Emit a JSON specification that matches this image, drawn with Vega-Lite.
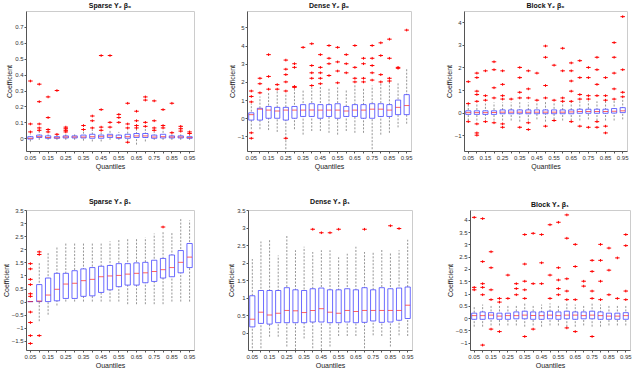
{
"$schema":"https://vega.github.io/schema/vega-lite/v6.json",
"padding":{"left":1,"top":1,"right":0,"bottom":0},
"datasets":{
"boxes":[
{"p":1,"q":"0.05","lo":-0.02,"q1":-0.005,"m":0.0,"q3":0.01,"hi":0.03},
{"p":1,"q":"0.10","lo":-0.01,"q1":0.005,"m":0.01,"q3":0.02,"hi":0.045},
{"p":1,"q":"0.15","lo":-0.01,"q1":0.0,"m":0.005,"q3":0.015,"hi":0.035},
{"p":1,"q":"0.20","lo":-0.01,"q1":0.0,"m":0.003,"q3":0.01,"hi":0.02},
{"p":1,"q":"0.25","lo":-0.01,"q1":0.002,"m":0.008,"q3":0.015,"hi":0.035},
{"p":1,"q":"0.30","lo":-0.01,"q1":0.002,"m":0.008,"q3":0.015,"hi":0.03},
{"p":1,"q":"0.35","lo":-0.015,"q1":0.002,"m":0.008,"q3":0.02,"hi":0.045},
{"p":1,"q":"0.40","lo":-0.02,"q1":0.0,"m":0.01,"q3":0.025,"hi":0.055},
{"p":1,"q":"0.45","lo":-0.02,"q1":0.0,"m":0.01,"q3":0.02,"hi":0.045},
{"p":1,"q":"0.50","lo":-0.01,"q1":0.005,"m":0.015,"q3":0.025,"hi":0.05},
{"p":1,"q":"0.55","lo":-0.01,"q1":0.0,"m":0.005,"q3":0.02,"hi":0.04},
{"p":1,"q":"0.60","lo":-0.015,"q1":0.0,"m":0.01,"q3":0.025,"hi":0.055},
{"p":1,"q":"0.65","lo":-0.04,"q1":0.005,"m":0.015,"q3":0.03,"hi":0.06},
{"p":1,"q":"0.70","lo":-0.02,"q1":0.005,"m":0.015,"q3":0.03,"hi":0.06},
{"p":1,"q":"0.75","lo":-0.01,"q1":0.0,"m":0.008,"q3":0.02,"hi":0.04},
{"p":1,"q":"0.80","lo":-0.01,"q1":0.002,"m":0.01,"q3":0.025,"hi":0.05},
{"p":1,"q":"0.85","lo":-0.01,"q1":0.002,"m":0.008,"q3":0.015,"hi":0.03},
{"p":1,"q":"0.90","lo":-0.01,"q1":0.002,"m":0.008,"q3":0.015,"hi":0.035},
{"p":1,"q":"0.95","lo":-0.01,"q1":0.0,"m":0.004,"q3":0.01,"hi":0.02},
{"p":2,"q":"0.05","lo":-0.6,"q1":-0.1,"m":0.2,"q3":0.3,"hi":0.8},
{"p":2,"q":"0.10","lo":-0.6,"q1":-0.1,"m":0.5,"q3":0.55,"hi":1.2},
{"p":2,"q":"0.15","lo":-0.65,"q1":0.0,"m":0.45,"q3":0.65,"hi":1.4},
{"p":2,"q":"0.20","lo":-0.75,"q1":0.0,"m":0.4,"q3":0.6,"hi":1.5},
{"p":2,"q":"0.25","lo":-1.7,"q1":-0.1,"m":0.45,"q3":0.6,"hi":1.4},
{"p":2,"q":"0.30","lo":-0.6,"q1":0.0,"m":0.45,"q3":0.65,"hi":1.6},
{"p":2,"q":"0.35","lo":-0.9,"q1":0.1,"m":0.45,"q3":0.75,"hi":1.6},
{"p":2,"q":"0.40","lo":-0.7,"q1":0.1,"m":0.45,"q3":0.8,"hi":1.7},
{"p":2,"q":"0.45","lo":-0.7,"q1":0.0,"m":0.45,"q3":0.75,"hi":1.75},
{"p":2,"q":"0.50","lo":-0.8,"q1":0.1,"m":0.45,"q3":0.75,"hi":1.7},
{"p":2,"q":"0.55","lo":-0.9,"q1":0.0,"m":0.45,"q3":0.8,"hi":1.7},
{"p":2,"q":"0.60","lo":-0.7,"q1":0.1,"m":0.4,"q3":0.65,"hi":1.6},
{"p":2,"q":"0.65","lo":-0.8,"q1":0.1,"m":0.45,"q3":0.75,"hi":1.9},
{"p":2,"q":"0.70","lo":-0.8,"q1":0.0,"m":0.45,"q3":0.75,"hi":1.7},
{"p":2,"q":"0.75","lo":-1.7,"q1":0.0,"m":0.5,"q3":0.8,"hi":1.8},
{"p":2,"q":"0.80","lo":-0.9,"q1":0.1,"m":0.5,"q3":0.8,"hi":1.9},
{"p":2,"q":"0.85","lo":-0.8,"q1":0.1,"m":0.45,"q3":0.75,"hi":2.0},
{"p":2,"q":"0.90","lo":-0.5,"q1":0.2,"m":0.6,"q3":1.0,"hi":2.0},
{"p":2,"q":"0.95","lo":-0.3,"q1":0.2,"m":0.7,"q3":1.3,"hi":2.7},
{"p":3,"q":"0.05","lo":-0.35,"q1":-0.08,"m":0.0,"q3":0.08,"hi":0.35},
{"p":3,"q":"0.10","lo":-0.35,"q1":-0.08,"m":0.0,"q3":0.08,"hi":0.4},
{"p":3,"q":"0.15","lo":-0.3,"q1":-0.08,"m":0.0,"q3":0.08,"hi":0.4},
{"p":3,"q":"0.20","lo":-0.35,"q1":-0.08,"m":0.0,"q3":0.08,"hi":0.45},
{"p":3,"q":"0.25","lo":-0.35,"q1":-0.05,"m":0.02,"q3":0.12,"hi":0.45},
{"p":3,"q":"0.30","lo":-0.35,"q1":-0.05,"m":0.02,"q3":0.12,"hi":0.45},
{"p":3,"q":"0.35","lo":-0.4,"q1":-0.05,"m":0.02,"q3":0.12,"hi":0.5},
{"p":3,"q":"0.40","lo":-0.35,"q1":-0.05,"m":0.02,"q3":0.12,"hi":0.45},
{"p":3,"q":"0.45","lo":-0.3,"q1":-0.05,"m":0.02,"q3":0.12,"hi":0.45},
{"p":3,"q":"0.50","lo":-0.4,"q1":-0.05,"m":0.02,"q3":0.12,"hi":0.5},
{"p":3,"q":"0.55","lo":-0.3,"q1":-0.05,"m":0.02,"q3":0.12,"hi":0.45},
{"p":3,"q":"0.60","lo":-0.35,"q1":-0.05,"m":0.02,"q3":0.12,"hi":0.45},
{"p":3,"q":"0.65","lo":-0.35,"q1":-0.05,"m":0.03,"q3":0.12,"hi":0.45},
{"p":3,"q":"0.70","lo":-0.35,"q1":-0.03,"m":0.05,"q3":0.15,"hi":0.5},
{"p":3,"q":"0.75","lo":-0.3,"q1":-0.03,"m":0.05,"q3":0.15,"hi":0.5},
{"p":3,"q":"0.80","lo":-0.35,"q1":-0.03,"m":0.05,"q3":0.15,"hi":0.5},
{"p":3,"q":"0.85","lo":-0.35,"q1":-0.03,"m":0.05,"q3":0.15,"hi":0.5},
{"p":3,"q":"0.90","lo":-0.35,"q1":-0.02,"m":0.06,"q3":0.18,"hi":0.55},
{"p":3,"q":"0.95","lo":-0.3,"q1":0.0,"m":0.08,"q3":0.22,"hi":0.6},
{"p":4,"q":"0.05","lo":0.0,"q1":0.0,"m":0.0,"q3":0.0,"hi":0.0},
{"p":4,"q":"0.10","lo":-0.75,"q1":0.0,"m":0.02,"q3":0.65,"hi":1.5},
{"p":4,"q":"0.15","lo":-0.5,"q1":0.0,"m":0.25,"q3":0.9,"hi":1.9},
{"p":4,"q":"0.20","lo":-0.15,"q1":0.03,"m":0.47,"q3":1.08,"hi":2.1},
{"p":4,"q":"0.25","lo":0.0,"q1":0.12,"m":0.67,"q3":1.08,"hi":2.25},
{"p":4,"q":"0.30","lo":0.0,"q1":0.12,"m":0.7,"q3":1.18,"hi":2.25},
{"p":4,"q":"0.35","lo":0.0,"q1":0.2,"m":0.8,"q3":1.25,"hi":2.25},
{"p":4,"q":"0.40","lo":0.0,"q1":0.22,"m":0.85,"q3":1.3,"hi":2.25},
{"p":4,"q":"0.45","lo":0.0,"q1":0.35,"m":0.95,"q3":1.35,"hi":2.25},
{"p":4,"q":"0.50","lo":0.0,"q1":0.45,"m":0.98,"q3":1.38,"hi":2.3},
{"p":4,"q":"0.55","lo":0.0,"q1":0.57,"m":1.0,"q3":1.45,"hi":2.35},
{"p":4,"q":"0.60","lo":-0.1,"q1":0.63,"m":1.05,"q3":1.45,"hi":2.4},
{"p":4,"q":"0.65","lo":-0.1,"q1":0.63,"m":1.08,"q3":1.48,"hi":2.4},
{"p":4,"q":"0.70","lo":-0.1,"q1":0.72,"m":1.1,"q3":1.5,"hi":2.45},
{"p":4,"q":"0.75","lo":-0.1,"q1":0.77,"m":1.15,"q3":1.58,"hi":2.6},
{"p":4,"q":"0.80","lo":-0.1,"q1":0.9,"m":1.22,"q3":1.65,"hi":2.7},
{"p":4,"q":"0.85","lo":0.0,"q1":0.95,"m":1.3,"q3":1.78,"hi":2.65},
{"p":4,"q":"0.90","lo":0.0,"q1":1.1,"m":1.5,"q3":1.95,"hi":3.2},
{"p":4,"q":"0.95","lo":0.0,"q1":1.3,"m":1.7,"q3":2.22,"hi":3.1},
{"p":5,"q":"0.05","lo":-0.45,"q1":0.16,"m":0.38,"q3":1.05,"hi":2.1},
{"p":5,"q":"0.10","lo":-0.45,"q1":0.26,"m":0.58,"q3":1.2,"hi":2.6},
{"p":5,"q":"0.15","lo":-0.12,"q1":0.24,"m":0.5,"q3":1.2,"hi":2.65},
{"p":5,"q":"0.20","lo":-0.12,"q1":0.28,"m":0.55,"q3":1.2,"hi":2.2},
{"p":5,"q":"0.25","lo":-0.4,"q1":0.28,"m":0.63,"q3":1.28,"hi":2.78},
{"p":5,"q":"0.30","lo":-0.5,"q1":0.28,"m":0.62,"q3":1.22,"hi":2.35},
{"p":5,"q":"0.35","lo":-0.17,"q1":0.28,"m":0.57,"q3":1.2,"hi":2.45},
{"p":5,"q":"0.40","lo":-0.45,"q1":0.3,"m":0.63,"q3":1.25,"hi":2.3},
{"p":5,"q":"0.45","lo":-0.5,"q1":0.3,"m":0.68,"q3":1.27,"hi":2.35},
{"p":5,"q":"0.50","lo":-0.4,"q1":0.28,"m":0.58,"q3":1.22,"hi":2.35},
{"p":5,"q":"0.55","lo":-0.1,"q1":0.28,"m":0.55,"q3":1.22,"hi":2.15},
{"p":5,"q":"0.60","lo":-0.1,"q1":0.3,"m":0.63,"q3":1.25,"hi":2.25},
{"p":5,"q":"0.65","lo":-0.1,"q1":0.28,"m":0.6,"q3":1.22,"hi":2.45},
{"p":5,"q":"0.70","lo":-0.45,"q1":0.29,"m":0.63,"q3":1.28,"hi":2.3},
{"p":5,"q":"0.75","lo":-0.08,"q1":0.33,"m":0.63,"q3":1.22,"hi":2.3},
{"p":5,"q":"0.80","lo":-0.1,"q1":0.29,"m":0.63,"q3":1.28,"hi":2.4},
{"p":5,"q":"0.85","lo":-0.4,"q1":0.3,"m":0.63,"q3":1.25,"hi":2.3},
{"p":5,"q":"0.90","lo":-0.08,"q1":0.35,"m":0.63,"q3":1.27,"hi":2.35},
{"p":5,"q":"0.95","lo":-0.1,"q1":0.4,"m":0.78,"q3":1.3,"hi":2.65},
{"p":6,"q":"0.05","lo":-0.35,"q1":-0.05,"m":0.1,"q3":0.2,"hi":0.5},
{"p":6,"q":"0.10","lo":-0.35,"q1":-0.05,"m":0.1,"q3":0.25,"hi":0.55},
{"p":6,"q":"0.15","lo":-0.3,"q1":-0.03,"m":0.12,"q3":0.22,"hi":0.5},
{"p":6,"q":"0.20","lo":-0.3,"q1":-0.05,"m":0.08,"q3":0.2,"hi":0.5},
{"p":6,"q":"0.25","lo":-0.3,"q1":-0.05,"m":0.1,"q3":0.2,"hi":0.5},
{"p":6,"q":"0.30","lo":-0.3,"q1":-0.03,"m":0.1,"q3":0.25,"hi":0.55},
{"p":6,"q":"0.35","lo":-0.35,"q1":-0.03,"m":0.12,"q3":0.28,"hi":0.6},
{"p":6,"q":"0.40","lo":-0.3,"q1":-0.05,"m":0.1,"q3":0.25,"hi":0.55},
{"p":6,"q":"0.45","lo":-0.35,"q1":-0.05,"m":0.1,"q3":0.25,"hi":0.55},
{"p":6,"q":"0.50","lo":-0.3,"q1":-0.03,"m":0.12,"q3":0.28,"hi":0.6},
{"p":6,"q":"0.55","lo":-0.3,"q1":-0.05,"m":0.1,"q3":0.25,"hi":0.55},
{"p":6,"q":"0.60","lo":-0.35,"q1":-0.03,"m":0.12,"q3":0.28,"hi":0.6},
{"p":6,"q":"0.65","lo":-0.35,"q1":-0.05,"m":0.12,"q3":0.25,"hi":0.55},
{"p":6,"q":"0.70","lo":-0.3,"q1":-0.03,"m":0.1,"q3":0.25,"hi":0.55},
{"p":6,"q":"0.75","lo":-0.35,"q1":-0.03,"m":0.12,"q3":0.28,"hi":0.6},
{"p":6,"q":"0.80","lo":-0.35,"q1":-0.05,"m":0.1,"q3":0.25,"hi":0.55},
{"p":6,"q":"0.85","lo":-0.3,"q1":-0.05,"m":0.08,"q3":0.2,"hi":0.5},
{"p":6,"q":"0.90","lo":-0.3,"q1":-0.05,"m":0.08,"q3":0.2,"hi":0.5},
{"p":6,"q":"0.95","lo":-0.3,"q1":-0.05,"m":0.1,"q3":0.22,"hi":0.55}
],
"out":[
{"p":1,"q":"0.05","v":0.36},{"p":1,"q":"0.05","v":0.09},{"p":1,"q":"0.05","v":0.04},
{"p":1,"q":"0.10","v":0.34},{"p":1,"q":"0.10","v":0.23},{"p":1,"q":"0.10","v":0.09},{"p":1,"q":"0.10","v":0.065},{"p":1,"q":"0.10","v":0.05},
{"p":1,"q":"0.15","v":0.26},{"p":1,"q":"0.15","v":0.13},{"p":1,"q":"0.15","v":0.055},{"p":1,"q":"0.15","v":0.04},
{"p":1,"q":"0.20","v":0.30},{"p":1,"q":"0.20","v":0.025},
{"p":1,"q":"0.25","v":0.07},{"p":1,"q":"0.25","v":0.06},{"p":1,"q":"0.25","v":0.05},{"p":1,"q":"0.25","v":0.04},
{"p":1,"q":"0.35","v":0.08},{"p":1,"q":"0.35","v":0.055},
{"p":1,"q":"0.40","v":0.14},{"p":1,"q":"0.40","v":0.11},{"p":1,"q":"0.40","v":0.065},
{"p":1,"q":"0.45","v":0.52},{"p":1,"q":"0.45","v":0.18},{"p":1,"q":"0.45","v":0.07},{"p":1,"q":"0.45","v":0.05},
{"p":1,"q":"0.50","v":0.52},{"p":1,"q":"0.50","v":0.10},{"p":1,"q":"0.50","v":0.07},
{"p":1,"q":"0.55","v":0.15},{"p":1,"q":"0.55","v":0.13},{"p":1,"q":"0.55","v":0.10},
{"p":1,"q":"0.60","v":0.22},{"p":1,"q":"0.60","v":0.09},{"p":1,"q":"0.60","v":0.065},{"p":1,"q":"0.60","v":-0.025},
{"p":1,"q":"0.65","v":0.17},{"p":1,"q":"0.65","v":0.11},{"p":1,"q":"0.65","v":0.08},{"p":1,"q":"0.65","v":0.065},
{"p":1,"q":"0.70","v":0.26},{"p":1,"q":"0.70","v":0.24},{"p":1,"q":"0.70","v":0.10},{"p":1,"q":"0.70","v":0.075},
{"p":1,"q":"0.75","v":0.235},{"p":1,"q":"0.75","v":0.11},{"p":1,"q":"0.75","v":0.065},{"p":1,"q":"0.75","v":0.05},
{"p":1,"q":"0.80","v":0.18},{"p":1,"q":"0.80","v":0.08},{"p":1,"q":"0.80","v":0.065},
{"p":1,"q":"0.85","v":0.22},{"p":1,"q":"0.85","v":0.035},
{"p":1,"q":"0.90","v":0.075},{"p":1,"q":"0.90","v":0.06},{"p":1,"q":"0.90","v":0.045},
{"p":1,"q":"0.95","v":0.04},{"p":1,"q":"0.95","v":0.03},
{"p":2,"q":"0.05","v":1.5},{"p":2,"q":"0.05","v":1.2},{"p":2,"q":"0.05","v":0.9},{"p":2,"q":"0.05","v":-0.8},{"p":2,"q":"0.05","v":-1.1},
{"p":2,"q":"0.10","v":2.2},{"p":2,"q":"0.10","v":1.9},{"p":2,"q":"0.10","v":1.4},
{"p":2,"q":"0.15","v":3.5},{"p":2,"q":"0.15","v":2.3},{"p":2,"q":"0.15","v":1.6},
{"p":2,"q":"0.20","v":1.85},{"p":2,"q":"0.20","v":1.6},
{"p":2,"q":"0.25","v":3.2},{"p":2,"q":"0.25","v":2.7},{"p":2,"q":"0.25","v":2.4},{"p":2,"q":"0.25","v":2.0},{"p":2,"q":"0.25","v":1.5},{"p":2,"q":"0.25","v":-1.1},
{"p":2,"q":"0.30","v":3.0},{"p":2,"q":"0.30","v":2.8},{"p":2,"q":"0.30","v":1.75},{"p":2,"q":"0.30","v":1.7},
{"p":2,"q":"0.35","v":3.9},
{"p":2,"q":"0.40","v":4.1},{"p":2,"q":"0.40","v":2.9},{"p":2,"q":"0.40","v":2.5},{"p":2,"q":"0.40","v":2.2},{"p":2,"q":"0.40","v":1.8},
{"p":2,"q":"0.45","v":3.5},{"p":2,"q":"0.45","v":2.8},{"p":2,"q":"0.45","v":2.5},{"p":2,"q":"0.45","v":2.2},{"p":2,"q":"0.45","v":1.9},
{"p":2,"q":"0.50","v":4.0},{"p":2,"q":"0.50","v":3.3},{"p":2,"q":"0.50","v":3.0},{"p":2,"q":"0.50","v":2.35},
{"p":2,"q":"0.55","v":3.9},{"p":2,"q":"0.55","v":3.1},{"p":2,"q":"0.55","v":2.6},{"p":2,"q":"0.55","v":1.95},
{"p":2,"q":"0.60","v":3.5},{"p":2,"q":"0.60","v":3.0},{"p":2,"q":"0.60","v":2.5},
{"p":2,"q":"0.65","v":4.0},{"p":2,"q":"0.65","v":2.8},{"p":2,"q":"0.65","v":2.2},{"p":2,"q":"0.65","v":2.0},
{"p":2,"q":"0.70","v":3.3},{"p":2,"q":"0.70","v":3.0},{"p":2,"q":"0.70","v":2.2},{"p":2,"q":"0.70","v":2.0},
{"p":2,"q":"0.75","v":4.0},{"p":2,"q":"0.75","v":3.3},{"p":2,"q":"0.75","v":2.9},{"p":2,"q":"0.75","v":2.5},{"p":2,"q":"0.75","v":2.1},
{"p":2,"q":"0.80","v":4.15},{"p":2,"q":"0.80","v":3.45},{"p":2,"q":"0.80","v":2.4},{"p":2,"q":"0.80","v":2.0},
{"p":2,"q":"0.85","v":4.35},{"p":2,"q":"0.85","v":3.3},{"p":2,"q":"0.85","v":2.2},{"p":2,"q":"0.85","v":2.05},
{"p":2,"q":"0.90","v":2.8},{"p":2,"q":"0.90","v":2.75},
{"p":2,"q":"0.95","v":4.85},
{"p":3,"q":"0.05","v":1.37},{"p":3,"q":"0.05","v":0.4},{"p":3,"q":"0.05","v":-0.4},
{"p":3,"q":"0.10","v":1.75},{"p":3,"q":"0.10","v":1.55},{"p":3,"q":"0.10","v":0.95},{"p":3,"q":"0.10","v":0.8},{"p":3,"q":"0.10","v":0.5},{"p":3,"q":"0.10","v":-0.5},{"p":3,"q":"0.10","v":-0.9},{"p":3,"q":"0.10","v":-1.0},
{"p":3,"q":"0.15","v":1.85},{"p":3,"q":"0.15","v":0.75},{"p":3,"q":"0.15","v":0.55},{"p":3,"q":"0.15","v":-0.4},
{"p":3,"q":"0.20","v":2.25},{"p":3,"q":"0.20","v":1.9},{"p":3,"q":"0.20","v":1.1},{"p":3,"q":"0.20","v":0.65},{"p":3,"q":"0.20","v":-0.45},
{"p":3,"q":"0.25","v":1.85},{"p":3,"q":"0.25","v":1.25},{"p":3,"q":"0.25","v":0.75},{"p":3,"q":"0.25","v":0.6},{"p":3,"q":"0.25","v":-0.5},{"p":3,"q":"0.25","v":-0.65},
{"p":3,"q":"0.30","v":0.6},
{"p":3,"q":"0.35","v":2.0},{"p":3,"q":"0.35","v":1.55},{"p":3,"q":"0.35","v":0.9},{"p":3,"q":"0.35","v":0.65},{"p":3,"q":"0.35","v":-0.65},
{"p":3,"q":"0.40","v":1.85},{"p":3,"q":"0.40","v":1.05},{"p":3,"q":"0.40","v":0.65},{"p":3,"q":"0.40","v":-0.45},{"p":3,"q":"0.40","v":-0.75},
{"p":3,"q":"0.45","v":1.75},{"p":3,"q":"0.45","v":0.55},
{"p":3,"q":"0.50","v":2.95},{"p":3,"q":"0.50","v":2.45},{"p":3,"q":"0.50","v":1.2},{"p":3,"q":"0.50","v":0.65},{"p":3,"q":"0.50","v":-0.6},
{"p":3,"q":"0.55","v":2.1},{"p":3,"q":"0.55","v":0.55},{"p":3,"q":"0.55","v":-0.35},
{"p":3,"q":"0.60","v":2.85},{"p":3,"q":"0.60","v":1.85},{"p":3,"q":"0.60","v":0.65},{"p":3,"q":"0.60","v":0.5},
{"p":3,"q":"0.65","v":2.2},{"p":3,"q":"0.65","v":1.85},{"p":3,"q":"0.65","v":1.4},{"p":3,"q":"0.65","v":0.95},{"p":3,"q":"0.65","v":0.5},{"p":3,"q":"0.65","v":-0.4},
{"p":3,"q":"0.70","v":2.3},{"p":3,"q":"0.70","v":1.55},{"p":3,"q":"0.70","v":0.8},{"p":3,"q":"0.70","v":0.6},{"p":3,"q":"0.70","v":-0.6},
{"p":3,"q":"0.75","v":2.0},{"p":3,"q":"0.75","v":1.55},{"p":3,"q":"0.75","v":0.75},{"p":3,"q":"0.75","v":0.6},{"p":3,"q":"0.75","v":-0.65},
{"p":3,"q":"0.80","v":2.45},{"p":3,"q":"0.80","v":1.9},{"p":3,"q":"0.80","v":1.25},{"p":3,"q":"0.80","v":0.75},{"p":3,"q":"0.80","v":-0.4},{"p":3,"q":"0.80","v":-0.65},
{"p":3,"q":"0.85","v":1.55},{"p":3,"q":"0.85","v":0.75},{"p":3,"q":"0.85","v":0.55},{"p":3,"q":"0.85","v":-0.6},{"p":3,"q":"0.85","v":-0.9},
{"p":3,"q":"0.90","v":3.1},{"p":3,"q":"0.90","v":2.45},{"p":3,"q":"0.90","v":1.75},{"p":3,"q":"0.90","v":1.05},{"p":3,"q":"0.90","v":0.6},
{"p":3,"q":"0.95","v":4.25},{"p":3,"q":"0.95","v":1.9},{"p":3,"q":"0.95","v":0.9},{"p":3,"q":"0.95","v":0.7},
{"p":4,"q":"0.05","v":1.45},{"p":4,"q":"0.05","v":1.25},{"p":4,"q":"0.05","v":0.85},{"p":4,"q":"0.05","v":0.65},{"p":4,"q":"0.05","v":0.3},{"p":4,"q":"0.05","v":0.2},{"p":4,"q":"0.05","v":-0.4},{"p":4,"q":"0.05","v":-0.8},{"p":4,"q":"0.05","v":-1.3},{"p":4,"q":"0.05","v":-1.6},
{"p":4,"q":"0.10","v":1.9},{"p":4,"q":"0.10","v":1.8},{"p":4,"q":"0.10","v":-1.3},
{"p":4,"q":"0.80","v":2.85},
{"p":5,"q":"0.40","v":2.95},{"p":5,"q":"0.45","v":2.85},{"p":5,"q":"0.50","v":2.85},{"p":5,"q":"0.55","v":2.95},{"p":5,"q":"0.70","v":2.95},{"p":5,"q":"0.85","v":3.05},{"p":5,"q":"0.90","v":2.97},
{"p":6,"q":"0.05","v":4.1},{"p":6,"q":"0.05","v":1.25},{"p":6,"q":"0.05","v":1.15},
{"p":6,"q":"0.10","v":4.05},{"p":6,"q":"0.10","v":2.3},{"p":6,"q":"0.10","v":1.4},{"p":6,"q":"0.10","v":1.25},{"p":6,"q":"0.10","v":0.95},{"p":6,"q":"0.10","v":-1.1},
{"p":6,"q":"0.15","v":2.7},{"p":6,"q":"0.15","v":2.05},{"p":6,"q":"0.15","v":1.15},{"p":6,"q":"0.15","v":0.75},{"p":6,"q":"0.15","v":-0.45},
{"p":6,"q":"0.20","v":0.8},{"p":6,"q":"0.20","v":0.65},{"p":6,"q":"0.20","v":-0.55},
{"p":6,"q":"0.25","v":1.75},{"p":6,"q":"0.25","v":0.8},
{"p":6,"q":"0.30","v":1.4},{"p":6,"q":"0.30","v":1.2},{"p":6,"q":"0.30","v":0.95},
{"p":6,"q":"0.35","v":3.4},{"p":6,"q":"0.35","v":2.2},{"p":6,"q":"0.35","v":1.5},{"p":6,"q":"0.35","v":1.15},{"p":6,"q":"0.35","v":0.8},{"p":6,"q":"0.35","v":-0.75},
{"p":6,"q":"0.40","v":3.45},{"p":6,"q":"0.40","v":1.4},{"p":6,"q":"0.40","v":-0.45},
{"p":6,"q":"0.45","v":3.4},{"p":6,"q":"0.45","v":2.25},{"p":6,"q":"0.45","v":1.4},
{"p":6,"q":"0.50","v":3.8},{"p":6,"q":"0.50","v":1.75},{"p":6,"q":"0.50","v":0.8},
{"p":6,"q":"0.55","v":3.9},{"p":6,"q":"0.55","v":2.05},{"p":6,"q":"0.55","v":1.55},{"p":6,"q":"0.55","v":1.2},{"p":6,"q":"0.55","v":0.95},
{"p":6,"q":"0.60","v":4.2},{"p":6,"q":"0.60","v":3.25},{"p":6,"q":"0.60","v":1.6},{"p":6,"q":"0.60","v":1.1},{"p":6,"q":"0.60","v":0.75},{"p":6,"q":"0.60","v":-0.4},
{"p":6,"q":"0.65","v":3.0},{"p":6,"q":"0.65","v":2.1},{"p":6,"q":"0.65","v":0.75},{"p":6,"q":"0.65","v":-0.55},
{"p":6,"q":"0.70","v":1.5},{"p":6,"q":"0.70","v":1.3},
{"p":6,"q":"0.75","v":2.35},{"p":6,"q":"0.75","v":1.9},{"p":6,"q":"0.75","v":1.1},{"p":6,"q":"0.75","v":0.8},{"p":6,"q":"0.75","v":-0.75},
{"p":6,"q":"0.80","v":3.0},{"p":6,"q":"0.80","v":2.35},{"p":6,"q":"0.80","v":1.5},{"p":6,"q":"0.80","v":0.75},
{"p":6,"q":"0.85","v":2.85},{"p":6,"q":"0.85","v":1.95},{"p":6,"q":"0.85","v":0.95},
{"p":6,"q":"0.90","v":2.45},{"p":6,"q":"0.90","v":0.8},
{"p":6,"q":"0.95","v":3.4},{"p":6,"q":"0.95","v":2.95},{"p":6,"q":"0.95","v":1.1},{"p":6,"q":"0.95","v":0.75}
]
},
"spacing":27,
"vconcat":[
{"hconcat":[
{"title":"Sparse Y₂ β₀","width":168,"height":140,"layer":[
{"data":{"name":"boxes"},"transform":[{"filter":"datum.p==1"}],"mark":{"type":"rule","strokeDash":[2,1.5],"color":"#222","strokeWidth":0.8,"opacity":0.6},"encoding":{"x":{"field":"q","type":"ordinal","scale":{"paddingInner":0.4,"paddingOuter":0.2},"axis":{"title":"Quantiles","labelAngle":0,"labelExpr":"round(toNumber(datum.value)*100)%10==5 ? datum.value : ''"}},"y":{"field":"lo","type":"quantitative","scale":{"domain":[-0.08,0.8],"nice":false,"zero":false},"axis":{"title":"Coefficient","values":[0,0.1,0.2,0.3,0.4,0.5,0.6,0.7],"format":"~g"}},"y2":{"field":"hi"}}},
{"data":{"name":"boxes"},"transform":[{"filter":"datum.p==1"}],"mark":{"type":"bar","fill":"white","stroke":"#3b3bff","strokeWidth":1,"strokeOpacity":0.75},"encoding":{"x":{"field":"q","type":"ordinal","axis":{"title":"Quantiles","labelAngle":0,"labelExpr":"round(toNumber(datum.value)*100)%10==5 ? datum.value : ''"}},"y":{"field":"q1","type":"quantitative","axis":{"title":"Coefficient","values":[0,0.1,0.2,0.3,0.4,0.5,0.6,0.7],"format":"~g"}},"y2":{"field":"q3"}}},
{"data":{"name":"boxes"},"transform":[{"filter":"datum.p==1"}],"mark":{"type":"tick","color":"#ff2020","size":5,"thickness":1},"encoding":{"x":{"field":"q","type":"ordinal","axis":{"title":"Quantiles","labelAngle":0,"labelExpr":"round(toNumber(datum.value)*100)%10==5 ? datum.value : ''"}},"y":{"field":"m","type":"quantitative","axis":{"title":"Coefficient","values":[0,0.1,0.2,0.3,0.4,0.5,0.6,0.7],"format":"~g"}}}},
{"data":{"name":"out"},"transform":[{"filter":"datum.p==1"}],"mark":{"type":"point","shape":"M-1,0H1M0,-0.6V0.6","size":20,"stroke":"#ff0000","filled":false,"strokeWidth":1,"opacity":1},"encoding":{"x":{"field":"q","type":"ordinal","axis":{"title":"Quantiles","labelAngle":0,"labelExpr":"round(toNumber(datum.value)*100)%10==5 ? datum.value : ''"}},"y":{"field":"v","type":"quantitative","axis":{"title":"Coefficient","values":[0,0.1,0.2,0.3,0.4,0.5,0.6,0.7],"format":"~g"}}}}
]},
{"title":"Dense Y₂ β₀","width":164,"height":140,"layer":[
{"data":{"name":"boxes"},"transform":[{"filter":"datum.p==2"}],"mark":{"type":"rule","strokeDash":[2,1.5],"color":"#222","strokeWidth":0.8,"opacity":0.6},"encoding":{"x":{"field":"q","type":"ordinal","scale":{"paddingInner":0.4,"paddingOuter":0.2},"axis":{"title":"Quantiles","labelAngle":0,"labelExpr":"round(toNumber(datum.value)*100)%10==5 ? datum.value : ''"}},"y":{"field":"lo","type":"quantitative","scale":{"domain":[-1.8,5.9],"nice":false,"zero":false},"axis":{"title":"Coefficient","values":[-1,0,1,2,3,4,5],"format":"~g"}},"y2":{"field":"hi"}}},
{"data":{"name":"boxes"},"transform":[{"filter":"datum.p==2"}],"mark":{"type":"bar","fill":"white","stroke":"#3b3bff","strokeWidth":1,"strokeOpacity":0.75},"encoding":{"x":{"field":"q","type":"ordinal","axis":{"title":"Quantiles","labelAngle":0,"labelExpr":"round(toNumber(datum.value)*100)%10==5 ? datum.value : ''"}},"y":{"field":"q1","type":"quantitative","axis":{"title":"Coefficient","values":[-1,0,1,2,3,4,5],"format":"~g"}},"y2":{"field":"q3"}}},
{"data":{"name":"boxes"},"transform":[{"filter":"datum.p==2"}],"mark":{"type":"tick","color":"#ff2020","size":5,"thickness":1},"encoding":{"x":{"field":"q","type":"ordinal","axis":{"title":"Quantiles","labelAngle":0,"labelExpr":"round(toNumber(datum.value)*100)%10==5 ? datum.value : ''"}},"y":{"field":"m","type":"quantitative","axis":{"title":"Coefficient","values":[-1,0,1,2,3,4,5],"format":"~g"}}}},
{"data":{"name":"out"},"transform":[{"filter":"datum.p==2"}],"mark":{"type":"point","shape":"M-1,0H1M0,-0.6V0.6","size":20,"stroke":"#ff0000","filled":false,"strokeWidth":1,"opacity":1},"encoding":{"x":{"field":"q","type":"ordinal","axis":{"title":"Quantiles","labelAngle":0,"labelExpr":"round(toNumber(datum.value)*100)%10==5 ? datum.value : ''"}},"y":{"field":"v","type":"quantitative","axis":{"title":"Coefficient","values":[-1,0,1,2,3,4,5],"format":"~g"}}}}
]},
{"title":"Block Y₂ β₀","width":163,"height":140,"layer":[
{"data":{"name":"boxes"},"transform":[{"filter":"datum.p==3"}],"mark":{"type":"rule","strokeDash":[2,1.5],"color":"#222","strokeWidth":0.8,"opacity":0.6},"encoding":{"x":{"field":"q","type":"ordinal","scale":{"paddingInner":0.4,"paddingOuter":0.2},"axis":{"title":"Quantiles","labelAngle":0,"labelExpr":"round(toNumber(datum.value)*100)%10==5 ? datum.value : ''"}},"y":{"field":"lo","type":"quantitative","scale":{"domain":[-1.7,4.5],"nice":false,"zero":false},"axis":{"title":"Coefficient","values":[-1,0,1,2,3,4],"format":"~g"}},"y2":{"field":"hi"}}},
{"data":{"name":"boxes"},"transform":[{"filter":"datum.p==3"}],"mark":{"type":"bar","fill":"white","stroke":"#3b3bff","strokeWidth":1,"strokeOpacity":0.75},"encoding":{"x":{"field":"q","type":"ordinal","axis":{"title":"Quantiles","labelAngle":0,"labelExpr":"round(toNumber(datum.value)*100)%10==5 ? datum.value : ''"}},"y":{"field":"q1","type":"quantitative","axis":{"title":"Coefficient","values":[-1,0,1,2,3,4],"format":"~g"}},"y2":{"field":"q3"}}},
{"data":{"name":"boxes"},"transform":[{"filter":"datum.p==3"}],"mark":{"type":"tick","color":"#ff2020","size":5,"thickness":1},"encoding":{"x":{"field":"q","type":"ordinal","axis":{"title":"Quantiles","labelAngle":0,"labelExpr":"round(toNumber(datum.value)*100)%10==5 ? datum.value : ''"}},"y":{"field":"m","type":"quantitative","axis":{"title":"Coefficient","values":[-1,0,1,2,3,4],"format":"~g"}}}},
{"data":{"name":"out"},"transform":[{"filter":"datum.p==3"}],"mark":{"type":"point","shape":"M-1,0H1M0,-0.6V0.6","size":20,"stroke":"#ff0000","filled":false,"strokeWidth":1,"opacity":1},"encoding":{"x":{"field":"q","type":"ordinal","axis":{"title":"Quantiles","labelAngle":0,"labelExpr":"round(toNumber(datum.value)*100)%10==5 ? datum.value : ''"}},"y":{"field":"v","type":"quantitative","axis":{"title":"Coefficient","values":[-1,0,1,2,3,4],"format":"~g"}}}}
]}
],"spacing":31},
{"hconcat":[
{"title":"Sparse Y₃ β₁","width":168,"height":140,"layer":[
{"data":{"name":"boxes"},"transform":[{"filter":"datum.p==4"}],"mark":{"type":"rule","strokeDash":[2,1.5],"color":"#222","strokeWidth":0.8,"opacity":0.6},"encoding":{"x":{"field":"q","type":"ordinal","scale":{"paddingInner":0.4,"paddingOuter":0.2},"axis":{"title":"Quantiles","labelAngle":0,"labelExpr":"round(toNumber(datum.value)*100)%10==5 ? datum.value : ''"}},"y":{"field":"lo","type":"quantitative","scale":{"domain":[-1.85,3.5],"nice":false,"zero":false},"axis":{"title":"Coefficient","values":[-1.5,-1,-0.5,0,0.5,1,1.5,2,2.5,3,3.5],"format":"~g"}},"y2":{"field":"hi"}}},
{"data":{"name":"boxes"},"transform":[{"filter":"datum.p==4"}],"mark":{"type":"bar","fill":"white","stroke":"#3b3bff","strokeWidth":1,"strokeOpacity":0.75},"encoding":{"x":{"field":"q","type":"ordinal","axis":{"title":"Quantiles","labelAngle":0,"labelExpr":"round(toNumber(datum.value)*100)%10==5 ? datum.value : ''"}},"y":{"field":"q1","type":"quantitative","axis":{"title":"Coefficient","values":[-1.5,-1,-0.5,0,0.5,1,1.5,2,2.5,3,3.5],"format":"~g"}},"y2":{"field":"q3"}}},
{"data":{"name":"boxes"},"transform":[{"filter":"datum.p==4"}],"mark":{"type":"tick","color":"#ff2020","size":5,"thickness":1},"encoding":{"x":{"field":"q","type":"ordinal","axis":{"title":"Quantiles","labelAngle":0,"labelExpr":"round(toNumber(datum.value)*100)%10==5 ? datum.value : ''"}},"y":{"field":"m","type":"quantitative","axis":{"title":"Coefficient","values":[-1.5,-1,-0.5,0,0.5,1,1.5,2,2.5,3,3.5],"format":"~g"}}}},
{"data":{"name":"out"},"transform":[{"filter":"datum.p==4"}],"mark":{"type":"point","shape":"M-1,0H1M0,-0.6V0.6","size":20,"stroke":"#ff0000","filled":false,"strokeWidth":1,"opacity":1},"encoding":{"x":{"field":"q","type":"ordinal","axis":{"title":"Quantiles","labelAngle":0,"labelExpr":"round(toNumber(datum.value)*100)%10==5 ? datum.value : ''"}},"y":{"field":"v","type":"quantitative","axis":{"title":"Coefficient","values":[-1.5,-1,-0.5,0,0.5,1,1.5,2,2.5,3,3.5],"format":"~g"}}}}
]},
{"title":"Dense Y₃ β₁","width":164,"height":140,"layer":[
{"data":{"name":"boxes"},"transform":[{"filter":"datum.p==5"}],"mark":{"type":"rule","strokeDash":[2,1.5],"color":"#222","strokeWidth":0.8,"opacity":0.6},"encoding":{"x":{"field":"q","type":"ordinal","scale":{"paddingInner":0.4,"paddingOuter":0.2},"axis":{"title":"Quantiles","labelAngle":0,"labelExpr":"round(toNumber(datum.value)*100)%10==5 ? datum.value : ''"}},"y":{"field":"lo","type":"quantitative","scale":{"domain":[-0.5,3.5],"nice":false,"zero":false},"axis":{"title":"Coefficient","values":[0,0.5,1,1.5,2,2.5,3,3.5],"format":"~g"}},"y2":{"field":"hi"}}},
{"data":{"name":"boxes"},"transform":[{"filter":"datum.p==5"}],"mark":{"type":"bar","fill":"white","stroke":"#3b3bff","strokeWidth":1,"strokeOpacity":0.75},"encoding":{"x":{"field":"q","type":"ordinal","axis":{"title":"Quantiles","labelAngle":0,"labelExpr":"round(toNumber(datum.value)*100)%10==5 ? datum.value : ''"}},"y":{"field":"q1","type":"quantitative","axis":{"title":"Coefficient","values":[0,0.5,1,1.5,2,2.5,3,3.5],"format":"~g"}},"y2":{"field":"q3"}}},
{"data":{"name":"boxes"},"transform":[{"filter":"datum.p==5"}],"mark":{"type":"tick","color":"#ff2020","size":5,"thickness":1},"encoding":{"x":{"field":"q","type":"ordinal","axis":{"title":"Quantiles","labelAngle":0,"labelExpr":"round(toNumber(datum.value)*100)%10==5 ? datum.value : ''"}},"y":{"field":"m","type":"quantitative","axis":{"title":"Coefficient","values":[0,0.5,1,1.5,2,2.5,3,3.5],"format":"~g"}}}},
{"data":{"name":"out"},"transform":[{"filter":"datum.p==5"}],"mark":{"type":"point","shape":"M-1,0H1M0,-0.6V0.6","size":20,"stroke":"#ff0000","filled":false,"strokeWidth":1,"opacity":1},"encoding":{"x":{"field":"q","type":"ordinal","axis":{"title":"Quantiles","labelAngle":0,"labelExpr":"round(toNumber(datum.value)*100)%10==5 ? datum.value : ''"}},"y":{"field":"v","type":"quantitative","axis":{"title":"Coefficient","values":[0,0.5,1,1.5,2,2.5,3,3.5],"format":"~g"}}}}
]},
{"title":"Block Y₃ β₁","width":160,"height":140,"layer":[
{"data":{"name":"boxes"},"transform":[{"filter":"datum.p==6"}],"mark":{"type":"rule","strokeDash":[2,1.5],"color":"#222","strokeWidth":0.8,"opacity":0.6},"encoding":{"x":{"field":"q","type":"ordinal","scale":{"paddingInner":0.4,"paddingOuter":0.2},"axis":{"title":"Quantiles","labelAngle":0,"labelExpr":"round(toNumber(datum.value)*100)%10==5 ? datum.value : ''"}},"y":{"field":"lo","type":"quantitative","scale":{"domain":[-1.3,4.4],"nice":false,"zero":false},"axis":{"title":"Coefficient","values":[-1,-0.5,0,0.5,1,1.5,2,2.5,3,3.5,4],"format":"~g"}},"y2":{"field":"hi"}}},
{"data":{"name":"boxes"},"transform":[{"filter":"datum.p==6"}],"mark":{"type":"bar","fill":"white","stroke":"#3b3bff","strokeWidth":1,"strokeOpacity":0.75},"encoding":{"x":{"field":"q","type":"ordinal","axis":{"title":"Quantiles","labelAngle":0,"labelExpr":"round(toNumber(datum.value)*100)%10==5 ? datum.value : ''"}},"y":{"field":"q1","type":"quantitative","axis":{"title":"Coefficient","values":[-1,-0.5,0,0.5,1,1.5,2,2.5,3,3.5,4],"format":"~g"}},"y2":{"field":"q3"}}},
{"data":{"name":"boxes"},"transform":[{"filter":"datum.p==6"}],"mark":{"type":"tick","color":"#ff2020","size":5,"thickness":1},"encoding":{"x":{"field":"q","type":"ordinal","axis":{"title":"Quantiles","labelAngle":0,"labelExpr":"round(toNumber(datum.value)*100)%10==5 ? datum.value : ''"}},"y":{"field":"m","type":"quantitative","axis":{"title":"Coefficient","values":[-1,-0.5,0,0.5,1,1.5,2,2.5,3,3.5,4],"format":"~g"}}}},
{"data":{"name":"out"},"transform":[{"filter":"datum.p==6"}],"mark":{"type":"point","shape":"M-1,0H1M0,-0.6V0.6","size":20,"stroke":"#ff0000","filled":false,"strokeWidth":1,"opacity":1},"encoding":{"x":{"field":"q","type":"ordinal","axis":{"title":"Quantiles","labelAngle":0,"labelExpr":"round(toNumber(datum.value)*100)%10==5 ? datum.value : ''"}},"y":{"field":"v","type":"quantitative","axis":{"title":"Coefficient","values":[-1,-0.5,0,0.5,1,1.5,2,2.5,3,3.5,4],"format":"~g"}}}}
]}
],"spacing":31}
],
"config":{
"font":"Liberation Sans",
"axis":{"labelFontSize":6,"titleFontSize":7,"titleFontWeight":"normal","tickSize":2,"labelPadding":1,"titlePadding":2,"domainColor":"#555","tickColor":"#555","labelColor":"#333","titleColor":"#222","grid":false,"labelOverlap":false},
"title":{"fontSize":7,"fontWeight":"bold","offset":2,"color":"#111"},
"view":{"stroke":"#cccccc"}
}
}
